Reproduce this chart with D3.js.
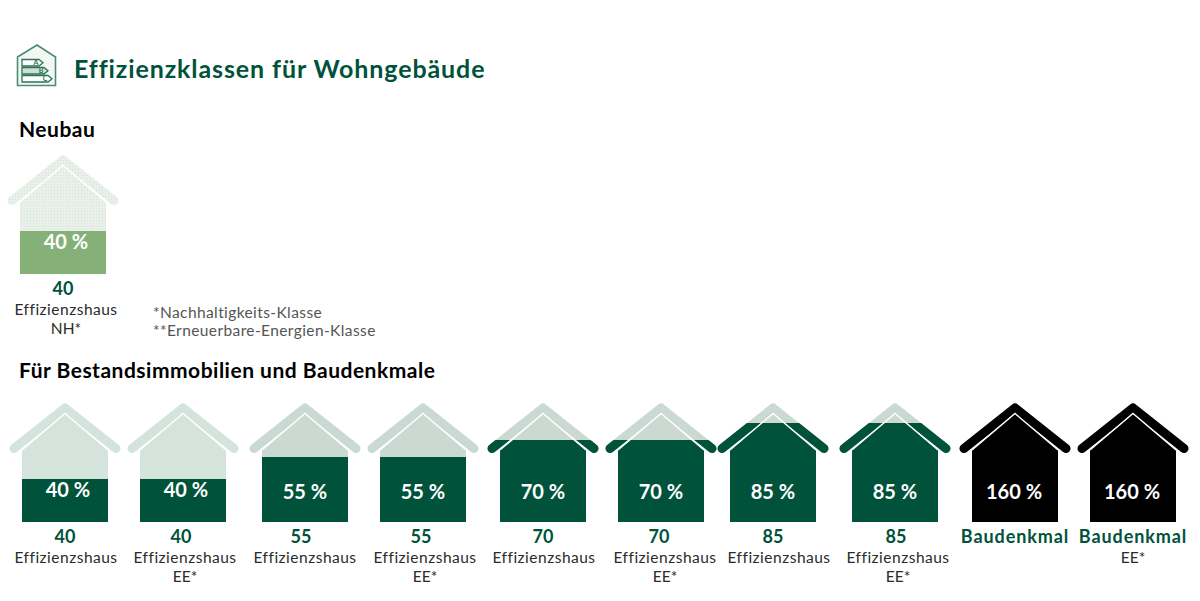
<!DOCTYPE html>
<html>
<head>
<meta charset="utf-8">
<script src="https://cdn.jsdelivr.net/npm/d3@7"></script>
<style>
  html, body { margin: 0; background: #fff; }
  text { font-family: Lato, sans-serif; }
</style>
</head>
<body>
<div id="chart"></div>
<script>
// data
const newBuildIds = ["nh40"];
const newBuildValues = [40];
const newBuildNumbers = ["40"];
const newBuildNames = ["Effizienzshaus"];
const newBuildSuffix = ["NH*"];

const existingIds = ["e40", "e40ee", "e55", "e55ee", "e70", "e70ee", "e85", "e85ee", "b160", "b160ee"];
const existingValues = [40, 40, 55, 55, 70, 70, 85, 85, 160, 160];
const existingNumbers = ["40", "40", "55", "55", "70", "70", "85", "85", "Baudenkmal", "Baudenkmal"];
const existingNames = ["Effizienzshaus", "Effizienzshaus", "Effizienzshaus", "Effizienzshaus", "Effizienzshaus", "Effizienzshaus", "Effizienzshaus", "Effizienzshaus", "", ""];
const existingSuffix = ["", "EE*", "", "EE*", "", "EE*", "", "EE*", "", "EE*"];

const notes = ["*Nachhaltigkeits-Klasse", "**Erneuerbare-Energien-Klasse"];
const iconLetters = ["A", "B", "C"];

const width = 1200;
const height = 601;
const green = "#00523a";

// the houses are not evenly spaced in the original, so ordinal scales hold the slots
const houseX = d3.scaleOrdinal()
  .domain(newBuildIds.concat(existingIds))
  .range([63, 65, 183, 305, 423, 543, 661, 773, 895, 1015, 1133]);
const percentX = d3.scaleOrdinal()
  .domain(newBuildIds.concat(existingIds))
  .range([66, 68, 186, 305, 423, 543, 661, 773, 895, 1014, 1132]);
const numberX = d3.scaleOrdinal()
  .domain(newBuildIds.concat(existingIds))
  .range([63, 65, 181, 301, 421, 543, 659, 773, 896, 1015, 1133]);
const nameX = d3.scaleOrdinal()
  .domain(newBuildIds.concat(existingIds))
  .range([66, 66, 185, 305, 425, 544, 665, 779, 898, 1015, 1133]);

// fill height of a house for a class value
const fillHeight = d3.scaleLinear()
  .domain([0, 40, 55, 70, 85, 160])
  .range([0, 43, 65, 82, 99, 120]);

const svg = d3.select("#chart").append("svg")
  .attr("width", width)
  .attr("height", height)
  .style("display", "block");

const defs = svg.append("defs");
const dots = defs.append("pattern")
  .attr("id", "dots")
  .attr("width", 3)
  .attr("height", 3)
  .attr("patternUnits", "userSpaceOnUse");
dots.append("rect").attr("width", 3).attr("height", 3).attr("fill", "#e9f0ea");
dots.append("rect").attr("width", 1).attr("height", 1).attr("fill", "#d3e2d8");

const line = d3.line();
const roofPath = line([[-51, -73.5], [0, -114], [51, -73.5]]);
const bodyPath = line([[-43, -72], [0, -108.5], [43, -72], [43, 0], [-43, 0]]) + "Z";
const ridgePath = line([[-43, -72], [0, -108.5], [43, -72]]);

function lightColor(v) {
  if (v == 40) return "#d4e3dc";
  return "#cbd9d3";
}
function darkColor(v) {
  return v > 100 ? "#000" : green;
}

function drawHouses(ids, values, numbers, names, suffix, baseY, light, dark) {
  const rows = ids.map((id, i) => ({ id, value: values[i], number: numbers[i], name: names[i], suffix: suffix[i] }));

  const g = svg.append("g").selectAll("g")
    .data(rows)
    .enter().append("g")
    .attr("transform", d => "translate(" + houseX(d.id) + "," + baseY + ")");

  function shape(sel, color) {
    sel.append("path")
      .attr("d", roofPath)
      .attr("fill", "none")
      .attr("stroke", color)
      .attr("stroke-width", 9)
      .attr("stroke-linecap", "round")
      .attr("stroke-linejoin", "round");
    sel.append("path").attr("d", bodyPath).attr("fill", color);
  }

  g.each(function (d) {
    const house = d3.select(this);
    shape(house.append("g"), light || lightColor(d.value));

    defs.append("clipPath").attr("id", "clip-" + d.id)
      .append("rect")
      .attr("x", -60)
      .attr("y", -fillHeight(d.value))
      .attr("width", 120)
      .attr("height", fillHeight(d.value));

    shape(house.append("g").attr("clip-path", "url(#clip-" + d.id + ")"), dark || darkColor(d.value));

    house.append("path")
      .attr("d", ridgePath)
      .attr("fill", "none")
      .attr("stroke", "#fff")
      .attr("stroke-width", 1.4);
  });

  const labels = svg.append("g").selectAll("g")
    .data(rows)
    .enter().append("g");

  labels.append("text")
    .attr("x", d => percentX(d.id))
    .attr("y", d => baseY + (d.value == 40 ? -25 : -23))
    .attr("text-anchor", "middle")
    .attr("font-size", 20)
    .attr("font-weight", 700)
    .attr("fill", "#fff")
    .text(d => d.value + " %");

  labels.append("text")
    .attr("x", d => numberX(d.id))
    .attr("y", baseY + 21)
    .attr("text-anchor", "middle")
    .attr("font-size", 18)
    .attr("font-weight", 700)
    .attr("letter-spacing", d => d.value > 100 ? 0.9 : 0)
    .attr("fill", green)
    .text(d => d.number);

  labels.append("text")
    .attr("x", d => nameX(d.id))
    .attr("y", baseY + 41)
    .attr("text-anchor", "middle")
    .attr("font-size", 15.5)
    .attr("letter-spacing", 0.5)
    .attr("fill", "#2b2b2b")
    .text(d => d.name);

  labels.append("text")
    .attr("x", d => nameX(d.id))
    .attr("y", d => baseY + (d.name ? 60 : 41))
    .attr("text-anchor", "middle")
    .attr("font-size", 15.5)
    .attr("fill", "#2b2b2b")
    .text(d => d.suffix);
}

drawHouses(newBuildIds, newBuildValues, newBuildNumbers, newBuildNames, newBuildSuffix, 274, "url(#dots)", "#85b078");
drawHouses(existingIds, existingValues, existingNumbers, existingNames, existingSuffix, 522);

// headings
svg.append("text")
  .attr("x", 74).attr("y", 78)
  .attr("font-size", 25).attr("font-weight", 700)
  .attr("letter-spacing", 0.9)
  .attr("fill", green)
  .text("Effizienzklassen für Wohngebäude");

svg.append("text")
  .attr("x", 19).attr("y", 137)
  .attr("font-size", 21).attr("font-weight", 700)
  .attr("letter-spacing", 0.5)
  .attr("fill", "#000")
  .text("Neubau");

svg.append("text")
  .attr("x", 19).attr("y", 378)
  .attr("font-size", 21).attr("font-weight", 700)
  .attr("letter-spacing", 0.5)
  .attr("fill", "#000")
  .text("Für Bestandsimmobilien und Baudenkmale");

svg.selectAll(".note")
  .data(notes)
  .enter().append("text")
  .attr("class", "note")
  .attr("x", 153)
  .attr("y", (d, i) => 318 + i * 18)
  .attr("font-size", 15.5)
  .attr("letter-spacing", 0.4)
  .attr("fill", "#555")
  .text(d => d);

// icon
const icon = svg.append("g");
icon.append("path")
  .attr("d", line([[17.5, 57], [37, 45], [55.5, 57], [55.5, 85.5], [17.5, 85.5]]) + "Z")
  .attr("fill", "#f2f7f4")
  .attr("stroke", "#4f8a72")
  .attr("stroke-width", 1.6);

const tagEnd = d3.scaleOrdinal().domain(iconLetters).range([43, 48, 52]);
const tagTop = d3.scalePoint().domain(iconLetters).range([59.5, 75.5]);

iconLetters.forEach(l => {
  const y = tagTop(l), r = tagEnd(l);
  icon.append("path")
    .attr("d", line([[22, y], [r - 4, y], [r, y + 3.2], [r - 4, y + 6.5], [22, y + 6.5]]) + "Z")
    .attr("fill", l == "B" ? "#cfe0d7" : "#fff")
    .attr("stroke", "#2f7358")
    .attr("stroke-width", 1.3);
  icon.append("text")
    .attr("x", r - 7).attr("y", y + 5.6)
    .attr("text-anchor", "middle")
    .attr("font-size", 7).attr("font-weight", 700)
    .attr("fill", "#2f7358")
    .text(l);
});
</script>
</body>
</html>
